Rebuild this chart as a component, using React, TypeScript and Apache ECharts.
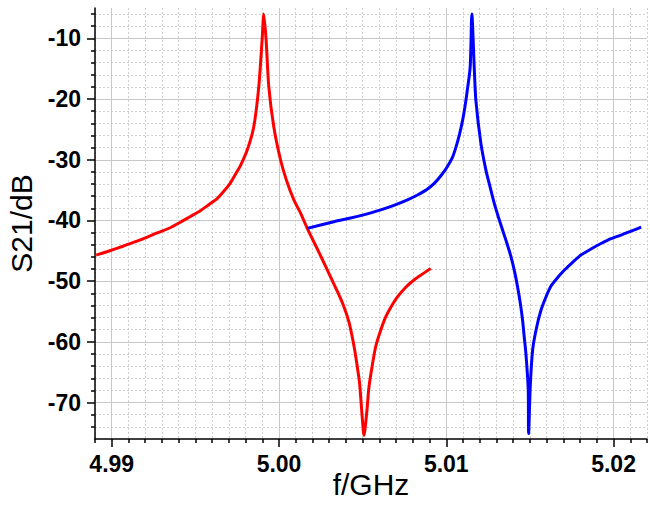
import React, { useEffect, useRef } from "react";
import * as echarts from "echarts";

// Axis ranges and tick labels
const X_MIN = 4.989;
const X_MAX = 5.022;
const Y_MIN = -76;
const Y_MAX = -5;
const majorXTicks = [4.99, 5.0, 5.01, 5.02];
const majorYTicks = [-70, -60, -50, -40, -30, -20, -10];

// Red curve (f in GHz, S21 in dB)
const redF = [
  4.98907, 4.98971, 4.99071, 4.99171, 4.99271, 4.9935, 4.9941, 4.9947, 4.9953,
  4.9958, 4.9963, 4.9967, 4.9971, 4.99744, 4.99769, 4.9981, 4.99849,
  4.99879, 4.99899, 4.99909, 4.99923, 4.99939, 4.99969, 5.00009, 5.00045,
  5.00089, 5.00129, 5.00169, 5.00238, 5.00308, 5.00349, 5.00388, 5.00418,
  5.00438, 5.00454, 5.00468, 5.00481, 5.00488, 5.00498, 5.00508, 5.00524,
  5.00538, 5.00558, 5.00578, 5.00608, 5.00638, 5.00673, 5.00708, 5.00758,
  5.00807, 5.00859, 5.00907,
];
const redDb = [
  -45.7, -45.15, -44.2, -43.2, -42.05, -41.2, -40.3, -39.35, -38.4, -37.4,
  -36.4, -35.2, -33.8, -32.2, -31.0, -28.4, -24.6, -18.0, -10.3, -6.0, -10.3,
  -18.0, -24.6, -30.0, -33.4, -36.6, -38.8, -41.3, -45.2, -49.3, -51.7, -54.2,
  -56.7, -59.2, -61.6, -64.1, -66.6, -69.0, -72.6, -75.4, -71.8, -67.4, -63.8,
  -60.8, -58.1, -55.9, -54.1, -52.6, -51.0, -49.8, -48.8, -47.9,
];

// Blue curve
const blueF = [
  5.00169, 5.00328, 5.00428, 5.00488, 5.00608, 5.00687, 5.00768, 5.00828,
  5.00884, 5.00928, 5.00969, 5.01007, 5.01037, 5.01057, 5.01079, 5.01097,
  5.01111, 5.01123, 5.01143, 5.01153, 5.01167, 5.01177, 5.01207, 5.01237,
  5.01262, 5.01287, 5.01311, 5.01337, 5.01363, 5.01387, 5.01409, 5.01426,
  5.01443, 5.01456, 5.01466, 5.01476, 5.0149, 5.01492, 5.01502, 5.01516,
  5.01537, 5.01566, 5.01596, 5.01626, 5.01666, 5.01705, 5.01757, 5.01805,
  5.01865, 5.01925, 5.01985, 5.02045, 5.02105, 5.02165,
];
const blueDb = [
  -41.3, -40.2, -39.6, -39.2, -38.25, -37.5, -36.6, -35.8, -34.9, -33.9,
  -32.6, -31.1, -29.6, -28.0, -25.8, -23.6, -21.4, -19.1, -14.7, -6.0, -14.7,
  -20.2, -27.3, -31.7, -34.5, -37.2, -39.4, -41.6, -43.8, -46.0, -48.5, -50.9,
  -53.7, -56.4, -59.2, -61.9, -67.9, -75.1, -67.4, -61.4, -58.0, -54.8, -52.6,
  -50.8, -49.4, -48.2, -46.85, -45.7, -44.7, -43.8, -43.0, -42.4, -41.75,
  -41.1,
];

const FONT = "'Liberation Sans', Arial, sans-serif";

export default function App() {
  const ref = useRef<HTMLDivElement>(null);

  useEffect(() => {
    if (!ref.current) return;
    const chart = echarts.init(ref.current, undefined, { renderer: "svg" });

    const minorXTicks: number[] = [];
    for (let k = Math.round(X_MIN * 1000); k <= Math.round(X_MAX * 1000); k++) {
      if (k % 10 !== 0) minorXTicks.push(k / 1000);
    }
    const minorYTicks: number[] = [];
    for (let v = Y_MIN + 2; v < Y_MAX; v += 2) {
      if (v % 10 !== 0) minorYTicks.push(v);
    }

    const axisColor = "#000";
    const majorSplit = { show: true, lineStyle: { color: "#c8c8c8", width: 1, type: "solid" as const } };
    const minorSplit = { show: true, lineStyle: { color: "#d0d0d0", width: 1, type: [2, 2] as any } };

    const lineSeries = (name: string, f: number[], db: number[], color: string, z: number) => ({
      type: "line",
      name,
      xAxisIndex: 0,
      yAxisIndex: 0,
      data: f.map((x, i) => [x, db[i]]),
      showSymbol: false,
      symbol: "none",
      smooth: 0.25,
      lineStyle: { color, width: 3 },
      itemStyle: { color },
      z,
    });

    chart.setOption({
      animation: false,
      backgroundColor: "#fff",
      grid: { left: 95, right: 3, top: 8, bottom: 67, containLabel: false, outerBoundsMode: "none" },
      xAxis: [
        {
          type: "value",
          min: X_MIN,
          max: X_MAX,
          position: "bottom",
          name: "f/GHz",
          nameLocation: "middle",
          nameGap: 30,
          nameMoveOverlap: false,
          nameTextStyle: { fontFamily: FONT, fontSize: 30, color: "#000", lineHeight: 30 },
          axisLine: { show: true, onZero: false, lineStyle: { color: axisColor, width: 1.5 } },
          axisTick: { show: true, inside: false, length: 8, customValues: majorXTicks, lineStyle: { color: axisColor, width: 1.5 } },
          axisLabel: {
            show: true,
            customValues: majorXTicks,
            margin: 13,
            fontFamily: FONT,
            fontSize: 23,
            fontWeight: "bold",
            color: "#000",
            formatter: (v: number) => v.toFixed(2),
          },
          splitLine: majorSplit,
        },
        {
          type: "value",
          min: X_MIN,
          max: X_MAX,
          position: "bottom",
          axisLine: { show: false, onZero: false },
          axisTick: { show: true, inside: false, length: 4, customValues: minorXTicks, lineStyle: { color: axisColor, width: 1.5 } },
          axisLabel: { show: false },
          splitLine: minorSplit,
        },
      ],
      yAxis: [
        {
          type: "value",
          min: Y_MIN,
          max: Y_MAX,
          position: "left",
          name: "S21/dB",
          nameLocation: "middle",
          nameGap: 55,
          nameTextStyle: { fontFamily: FONT, fontSize: 30, color: "#000" },
          axisLine: { show: true, onZero: false, lineStyle: { color: axisColor, width: 1.5 } },
          axisTick: { show: true, inside: false, length: 8, customValues: majorYTicks, lineStyle: { color: axisColor, width: 1.5 } },
          axisLabel: {
            show: true,
            customValues: majorYTicks,
            margin: 14,
            fontFamily: FONT,
            fontSize: 23,
            fontWeight: "bold",
            color: "#000",
          },
          splitLine: majorSplit,
        },
        {
          type: "value",
          min: Y_MIN,
          max: Y_MAX,
          position: "left",
          axisLine: { show: false, onZero: false },
          axisTick: { show: true, inside: false, length: 4, customValues: minorYTicks, lineStyle: { color: axisColor, width: 1.5 } },
          axisLabel: { show: false },
          splitLine: minorSplit,
        },
      ],
      series: [
        lineSeries("red", redF, redDb, "#ff0000", 5),
        lineSeries("blue", blueF, blueDb, "#0000ff", 6),
      ],
    });

    return () => chart.dispose();
  }, []);

  return (
    <div
      ref={ref}
      style={{ position: "absolute", left: 0, top: 0, width: 650, height: 506 }}
    />
  );
}
